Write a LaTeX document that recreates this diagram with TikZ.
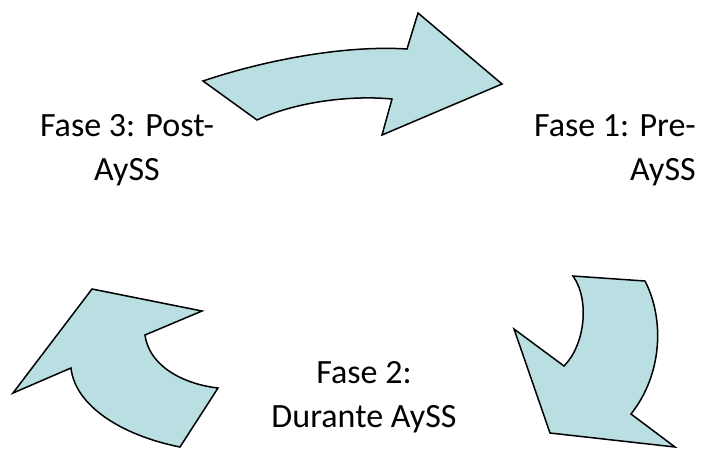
\documentclass[tikz,border=0pt]{standalone}
\usepackage{fontspec}
\setmainfont{Carlito}
\usepackage{tikz}

\definecolor{faseblue}{RGB}{185,223,227}

\begin{document}
\begin{tikzpicture}[x=1pt,y=-1pt,
        fasearrow/.style={draw=black,line width=1.5pt,fill=faseblue,line join=miter},
        faselabel/.style={font=\fontsize{34}{44}\selectfont,inner sep=0pt,anchor=base}]
        \useasboundingbox (0,0) rectangle (703,448);

        % --- Draw top arrow (Fase 3 -> Fase 1) ---
        \draw[fasearrow] (203,81) .. controls (265,60) and (345,45) .. (407,49)
            -- (418,13) -- (502,84) -- (382,135) -- (392,99)
            .. controls (350,95) and (295,102) .. (257,120) -- cycle;
        % ---

        % --- Draw right arrow (Fase 1 -> Fase 2) ---
        \draw[fasearrow] (573,276) -- (645,281)
            .. controls (665,320) and (662,375) .. (631,414)
            -- (675,447) -- (550,433) -- (514,329) -- (564,366)
            .. controls (585,345) and (590,300) .. (573,276) -- cycle;
        % ---

        % --- Draw left arrow (Fase 2 -> Fase 3) ---
        \draw[fasearrow] (92,289) -- (202,311) -- (145,335)
            .. controls (150,370) and (190,385) .. (218,388)
            -- (180,447)
            .. controls (120,435) and (75,405) .. (71,368)
            -- (13,393) -- cycle;
        % ---

        % --- Labels (base = baseline of the last line) ---
        \node[faselabel,align=center] (fasePost) at (127,180) {Fase 3: Post-\\AySS};
        \node[faselabel,align=right,anchor=base east] (fasePre) at (696,180) {Fase 1: Pre-\\AySS};
        \node[faselabel,align=center] (faseDurante) at (364,427) {Fase 2:\\Durante AySS};
        % ---
\end{tikzpicture}
\end{document}
